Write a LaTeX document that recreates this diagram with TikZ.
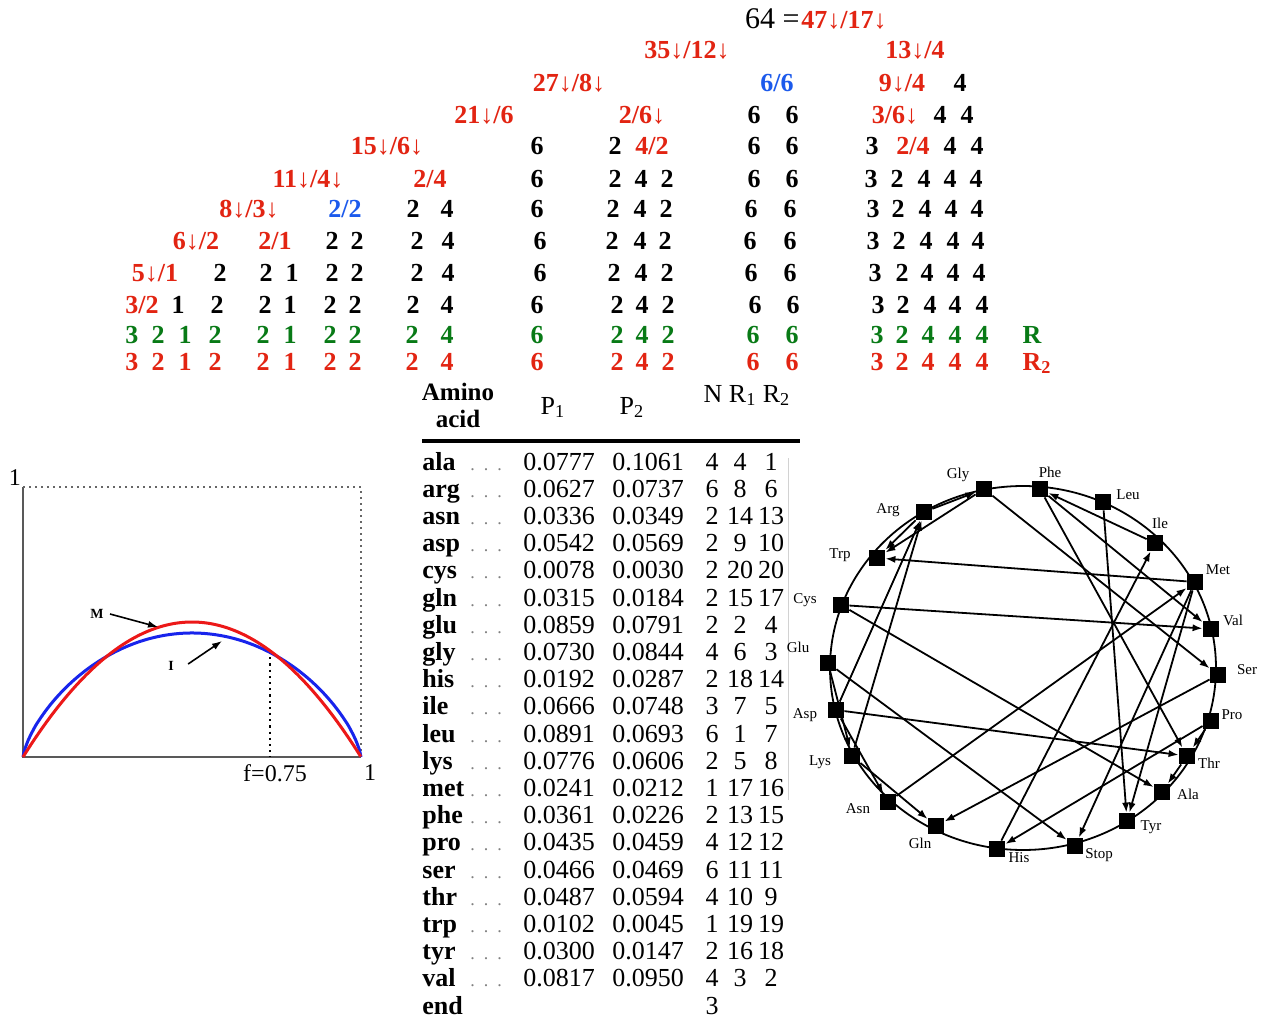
\documentclass[tikz,border=0pt]{standalone}
\usepackage{fontspec}
\setmainfont{Liberation Serif}
\usetikzlibrary{arrows.meta}
\definecolor{tred}{RGB}{226,36,18}
\definecolor{tgreen}{RGB}{8,122,22}
\definecolor{tblue}{RGB}{28,90,236}
\definecolor{cred}{RGB}{236,24,24}
\definecolor{cblue}{RGB}{24,36,236}
\newcommand\dwn{↓}
\begin{document}
\begin{tikzpicture}[x=0.5pt,y=-0.5pt,
  tr/.style={font=\fontsize{13}{13}\selectfont\bfseries, inner sep=0pt, anchor=base},
  tname/.style={font=\fontsize{13}{13}\selectfont\bfseries, inner sep=0pt, anchor=base west},
  tnum/.style={font=\fontsize{13}{13}\selectfont, inner sep=0pt, anchor=base},
  tdots/.style={font=\fontsize{9}{9}\selectfont, text=gray, inner sep=0pt, anchor=base west},
  aa/.style={rectangle, fill=black, minimum size=8pt, inner sep=0pt},
  alab/.style={font=\fontsize{7.5}{7.5}\selectfont, inner sep=0pt},
  edge/.style={line width=0.9pt, -{Latex[length=5pt,width=3.6pt]}},
  plab/.style={font=\fontsize{12}{12}\selectfont, inner sep=0pt}]
\useasboundingbox (0,0) rectangle (1266,1017);
\fill[white] (0,0) rectangle (1266,1017);

% ---------------- decomposition tree ----------------
\node[font=\fontsize{15}{15}\selectfont, inner sep=0pt, anchor=base east] (top64) at (800,28) {64 =};
\node[tr, text=tred, anchor=base west] (top47) at (801,28) {47\dwn/17\dwn};

\node[tr, text=tred] (f35) at (687,59) {35\dwn/12\dwn};
\node[tr, text=tred] (f13) at (915,59) {13\dwn/4};

\node[tr, text=tred] (f27) at (569,91) {27\dwn/8\dwn};
\node[tr, text=tblue] (f66) at (777,91) {6/6};
\node[tr, text=tred] (f9) at (902,91) {9\dwn/4};
\node[tr] (r2a) at (960,91) {4};

\node[tr, text=tred] (f21) at (484,123) {21\dwn/6};
\node[tr, text=tred] (f26) at (642,123) {2/6\dwn};
\node[tr, text=tred] (f36) at (895,123) {3/6\dwn};
\foreach \xx/\vv [count=\k] in {754/6,792/6,940/4,967/4}
  \node[tr] (r3-\k) at (\xx,123) {\vv};

\node[tr, text=tred] (f15) at (387,155) {15\dwn/6\dwn};
\node[tr, text=tred] (f42) at (652,155) {4/2};
\node[tr, text=tred] (f24b) at (913,155) {2/4};
\foreach \xx/\vv [count=\k] in {537/6,615/2,754/6,792/6,872/3,950/4,977/4}
  \node[tr] (r4-\k) at (\xx,155) {\vv};

\node[tr, text=tred] (f11) at (308,187) {11\dwn/4\dwn};
\node[tr, text=tred] (f24a) at (430,187) {2/4};
\foreach \xx/\vv [count=\k] in {537/6,615/2,641/4,667/2,754/6,792/6,871/3,897/2,924/4,950/4,976/4}
  \node[tr] (r5-\k) at (\xx,187) {\vv};

\node[tr, text=tred] (f8) at (249,217) {8\dwn/3\dwn};
\node[tr, text=tblue] (f22) at (345,217) {2/2};
\foreach \xx/\vv [count=\k] in {413/2,447/4,537/6,613/2,640/4,666/2,751/6,790/6,873/3,898/2,925/4,951/4,977/4}
  \node[tr] (r6-\k) at (\xx,217) {\vv};

\node[tr, text=tred] (f6) at (196,249) {6\dwn/2};
\node[tr, text=tred] (f21b) at (275,249) {2/1};
\foreach \xx/\vv [count=\k] in {332/2,357/2,417/2,448/4,540/6,612/2,640/4,665/2,750/6,790/6,873/3,899/2,926/4,953/4,978/4}
  \node[tr] (r7-\k) at (\xx,249) {\vv};

\node[tr, text=tred] (f5) at (155,281) {5\dwn/1};
\foreach \xx/\vv [count=\k] in {220/2,266/2,292/1,332/2,357/2,417/2,448/4,540/6,614/2,641/4,667/2,751/6,790/6,875/3,902/2,927/4,953/4,979/4}
  \node[tr] (r8-\k) at (\xx,281) {\vv};

\node[tr, text=tred] (f32) at (142,313) {3/2};
\foreach \xx/\vv [count=\k] in {178/1,217/2,265/2,290/1,330/2,355/2,413/2,447/4,537/6,617/2,642/4,668/2,755/6,793/6,878/3,903/2,930/4,955/4,982/4}
  \node[tr] (r9-\k) at (\xx,313) {\vv};

\def\finalrow{132/3,158/2,185/1,215/2,263/2,290/1,330/2,355/2,412/2,447/4,537/6,617/2,642/4,668/2,753/6,792/6,877/3,902/2,928/4,955/4,982/4}
\foreach \xx/\vv [count=\k] in \finalrow
  \node[tr, text=tgreen] (rg-\k) at (\xx,343) {\vv};
\node[tr, text=tgreen] (labR) at (1032,343) {R};
\foreach \xx/\vv [count=\k] in \finalrow
  \node[tr, text=tred] (rr-\k) at (\xx,370) {\vv};
\node[tr, text=tred] (labR2) at (1037,370) {R\textsubscript{2}};

% ---------------- amino acid table ----------------
\node[tr, font=\fontsize{12.5}{12.5}\selectfont\bfseries] (hamino) at (458,400) {Amino};
\node[tr, font=\fontsize{12.5}{12.5}\selectfont\bfseries] (hacid) at (458,427) {acid};
\node[tnum] (hp1) at (553,414) {P\textsubscript{1}};
\node[tnum] (hp2) at (632,414) {P\textsubscript{2}};
\node[tnum] (hnr) at (747,402) {N R\textsubscript{1} R\textsubscript{2}};
\draw[line width=1.6pt] (422,441) -- (800,441);
\draw[gray!35, line width=0.4pt] (788,458) -- (788,800);

\foreach \nm/\pa/\pb/\nn/\ra/\rb [count=\i from 0] in {
  ala/0.0777/0.1061/4/4/1, arg/0.0627/0.0737/6/8/6, asn/0.0336/0.0349/2/14/13,
  asp/0.0542/0.0569/2/9/10, cys/0.0078/0.0030/2/20/20, gln/0.0315/0.0184/2/15/17,
  glu/0.0859/0.0791/2/2/4, gly/0.0730/0.0844/4/6/3, his/0.0192/0.0287/2/18/14,
  ile/0.0666/0.0748/3/7/5, leu/0.0891/0.0693/6/1/7, lys/0.0776/0.0606/2/5/8,
  met/0.0241/0.0212/1/17/16, phe/0.0361/0.0226/2/13/15, pro/0.0435/0.0459/4/12/12,
  ser/0.0466/0.0469/6/11/11, thr/0.0487/0.0594/4/10/9, trp/0.0102/0.0045/1/19/19,
  tyr/0.0300/0.0147/2/16/18, val/0.0817/0.0950/4/3/2}{
  \pgfmathsetmacro\yy{470+27.2*\i}
  \node[tname] (n-\nm) at (422,\yy) {\nm};
  \node[tdots] (d-\nm) at (470,\yy) {.\ \ .\ \ .};
  \node[tnum, anchor=base west] (pa-\nm) at (523,\yy) {\pa};
  \node[tnum, anchor=base west] (pb-\nm) at (612,\yy) {\pb};
  \node[tnum] (nn-\nm) at (712,\yy) {\nn};
  \node[tnum] (ra-\nm) at (740,\yy) {\ra};
  \node[tnum] (rb-\nm) at (771,\yy) {\rb};
}
\node[tname] (n-end) at (422,1014) {end};
\node[tnum] (nn-end) at (712,1014) {3};

% ---------------- curves M and I ----------------
\draw[gray!70!black, line width=1.2pt] (23,487) -- (23,757) -- (361,757);
\draw[gray!80!black, dotted, line width=1pt] (23,487) -- (361,487) -- (361,757);
\draw[black, dotted, line width=1.1pt] (270,651) -- (270,757);
\draw[cblue, line width=1.5pt] (23,757) -- plot[domain=0.004:0.996, samples=90, smooth]
  ({23+338*\x},{757-124*(4*\x*(1-\x))^0.713}) -- (361,757);
\draw[cred, line width=1.5pt] plot[domain=0:1, samples=60, smooth] ({23+338*\x},{757-540*\x*(1-\x)});
\node[plab] (oney) at (15,478) {1};
\node[plab] (onex) at (370,773) {1};
\node[plab] (fval) at (275,773) {f=0.75};
\node[font=\fontsize{7}{7}\selectfont\bfseries, inner sep=1pt] (mlab) at (97,614) {M};
\node[font=\fontsize{7}{7}\selectfont\bfseries, inner sep=1pt] (ilab) at (171,666) {I};
\coordinate (mtip) at (158,627);
\coordinate (itip) at (222,641);
\draw[line width=0.8pt, -{Latex[length=5pt,width=3.5pt]}] (mlab.east) ++(4,0) -- (mtip);
\draw[line width=0.8pt, -{Latex[length=5pt,width=3.5pt]}] (ilab.east) ++(12,-2) -- (itip);

% ---------------- codon neighbour circle ----------------
\draw[line width=0.9pt] (1023,668) ellipse [x radius=193, y radius=182];
\foreach \nm/\xx/\yy in {Gly/984/489, Phe/1040/489, Leu/1103/502, Ile/1155/543,
  Met/1195/582, Val/1211/629, Ser/1218/675, Pro/1211/721, Thr/1187/756,
  Ala/1162/792, Tyr/1127/821, Stop/1075/846, His/997/849, Gln/936/826,
  Asn/888/802, Lys/852/756, Asp/836/710, Glu/828/663, Cys/841/605,
  Trp/877/558, Arg/924/512}
  \node[aa] (\nm) at (\xx,\yy) {};
\foreach \nm/\xx/\yy in {Gly/958/475, Phe/1050/472, Leu/1128/495, Ile/1160/523,
  Met/1218/570, Val/1233/620, Ser/1247/670, Pro/1232/715, Thr/1209/763,
  Ala/1188/794, Tyr/1151/827, Stop/1099/855, His/1019/858, Gln/920/843,
  Asn/858/809, Lys/820/762, Asp/805/715, Glu/798/647, Cys/805/600,
  Trp/840/555, Arg/888/510}
  \node[alab] (l-\nm) at (\xx,\yy) {\nm};

\foreach \a/\b in {Arg/Gly, Arg/Trp, Gly/Trp, Gly/Ser, Phe/Val, Phe/Thr, Ile/Phe,
  Leu/Tyr, Met/Trp, Cys/Val, Cys/Ala, Asp/Thr, Glu/Stop, Glu/Lys, Asp/Asn,
  Lys/Gln, Asp/Arg, Lys/Arg, Asn/Met, Ser/Gln, His/Ile, Met/Tyr, Met/Stop,
  Pro/His, Pro/Thr, Thr/Ala}
  \draw[edge] (\a) -- (\b);
\end{tikzpicture}
\end{document}
